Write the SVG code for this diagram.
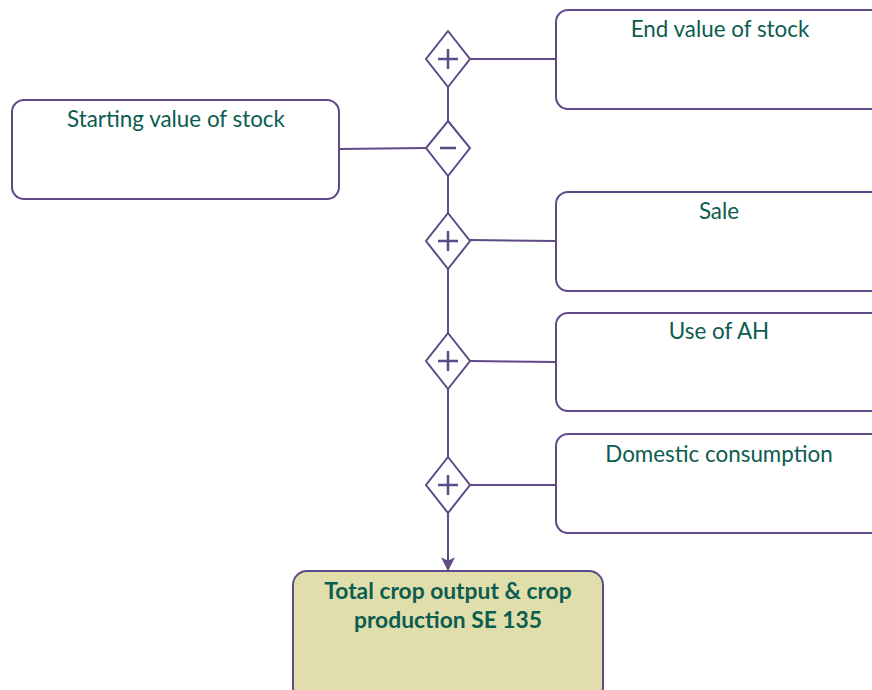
<svg xmlns="http://www.w3.org/2000/svg" width="872" height="690" viewBox="0 0 872 690">
<defs>
<style>
.box{fill:#ffffff;stroke:#5e4a86;stroke-width:2}
.total{fill:#e0dfab;stroke:#5e4a86;stroke-width:2}
.gw{fill:#ffffff;stroke:#5e4a86;stroke-width:2}
.sym{stroke:#5e4a86;stroke-width:2.5;fill:none}
.ln{stroke:#5e4a86;stroke-width:2;fill:none}
.t{font-family:Lato,"Open Sans","Liberation Sans",sans-serif;font-size:22.4px;fill:#0d5c50;text-anchor:middle}
.tb{font-family:Lato,"Open Sans","Liberation Sans",sans-serif;font-size:22.8px;font-weight:bold;fill:#0d5c50;text-anchor:middle}
</style>
<marker id="arr2" viewBox="0 0 12 12" refX="11" refY="6" markerWidth="14" markerHeight="14" markerUnits="userSpaceOnUse" orient="auto">
<path d="M0,0 L12,6 L0,12 L3,6 Z" fill="#5e4a86"/>
</marker>
</defs>
<g id="connectors">
<line class="ln" x1="448" y1="87" x2="448" y2="121"/>
<line class="ln" x1="448" y1="176" x2="448" y2="213"/>
<line class="ln" x1="448" y1="269" x2="448" y2="333"/>
<line class="ln" x1="448" y1="389" x2="448" y2="457"/>
<line class="ln" x1="448" y1="513" x2="448" y2="570" marker-end="url(#arr2)"/>
<line class="ln" x1="470" y1="59" x2="556" y2="59"/>
<line class="ln" x1="339" y1="149" x2="426" y2="148"/>
<line class="ln" x1="470" y1="240" x2="556" y2="241"/>
<line class="ln" x1="470" y1="361" x2="556" y2="362"/>
<line class="ln" x1="470" y1="485" x2="556" y2="485"/>
</g>
<g id="end-value">
<rect class="box" x="556" y="10" width="330" height="99" rx="12"/>
<text class="t" x="720" y="37">End value of stock</text>
</g>
<g id="starting-value">
<rect class="box" x="12" y="100" width="327" height="99" rx="12"/>
<text class="t" x="176" y="127">Starting value of stock</text>
</g>
<g id="sale">
<rect class="box" x="556" y="192" width="330" height="99" rx="12"/>
<text class="t" x="719" y="219">Sale</text>
</g>
<g id="use-of-ah">
<rect class="box" x="556" y="313" width="330" height="98" rx="12"/>
<text class="t" x="719" y="339">Use of AH</text>
</g>
<g id="domestic">
<rect class="box" x="556" y="434" width="330" height="99" rx="12"/>
<text class="t" x="719" y="462">Domestic consumption</text>
</g>
<g id="total">
<rect class="total" x="293" y="571" width="310" height="130" rx="14"/>
<text class="tb" x="448" y="599">Total crop output &amp; crop</text>
<text class="tb" x="448" y="628">production SE 135</text>
</g>
<g id="gw1">
<path class="gw" d="M448,31 L470,59 L448,87 L426,59 Z"/>
<path class="sym" d="M438,59 H458 M448,49 V69"/>
</g>
<g id="gw2">
<path class="gw" d="M448,121 L470,148 L448,176 L426,148 Z"/>
<path class="sym" d="M440,148 H456"/>
</g>
<g id="gw3">
<path class="gw" d="M448,213 L470,241 L448,269 L426,241 Z"/>
<path class="sym" d="M438,241 H458 M448,231 V251"/>
</g>
<g id="gw4">
<path class="gw" d="M448,333 L470,361 L448,389 L426,361 Z"/>
<path class="sym" d="M438,361 H458 M448,351 V371"/>
</g>
<g id="gw5">
<path class="gw" d="M448,457 L470,485 L448,513 L426,485 Z"/>
<path class="sym" d="M438,485 H458 M448,475 V495"/>
</g>
</svg>
